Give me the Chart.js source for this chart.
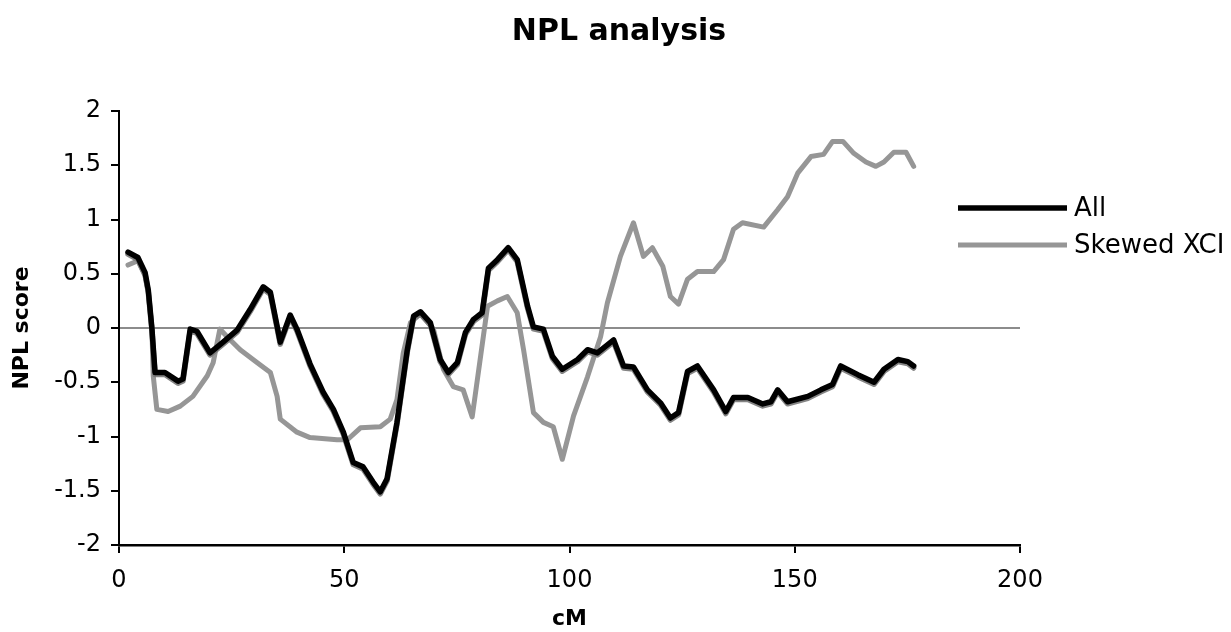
<!DOCTYPE html>
<html>
<head>
<meta charset="utf-8">
<script src="https://cdn.jsdelivr.net/npm/chart.js@4.4.1/dist/chart.umd.min.js"></script>
<style>
  html, body { margin: 0; padding: 0; background: #fff; }
  #wrap { width: 1231px; height: 632px; position: relative; }
</style>
</head>
<body>
<div id="wrap"><canvas id="c"></canvas></div>
<script>
const chartTitle = "NPL analysis";
const seriesNames = ["All", "Skewed XCI"];

const allCM = [2, 4.2, 5.8, 6.5, 7.3, 8, 10.2, 13.1, 14.2, 15.8, 17.3, 20.2, 23.1, 26.2, 29.1, 32, 33.6, 35.8, 38, 39.5,
  42.4, 45.3, 47.6, 49.8, 52, 54.2, 56.4, 58, 59.5, 61.7, 64, 65.4, 66.9, 69.1, 71.3, 73.1, 75.1, 76.9, 78.7, 80.6,
  82, 84, 86.4, 88.4, 90.7, 92, 94.2, 96.2, 98.4, 101.8, 104, 106.2, 109.8, 112, 114.2, 117.3, 120.2, 122.4, 124.2, 126.2,
  128.4, 132, 134.7, 136.4, 139.6, 142.9, 144.7, 146.2, 148.4, 152.9, 155.8, 158.4, 160.2, 164, 167.6, 169.8, 172.9, 175.1, 176.4];
const allNPL = [0.70, 0.65, 0.51, 0.35, 0, -0.41, -0.41, -0.49, -0.47, -0.01, -0.03, -0.23, -0.13, -0.02, 0.17, 0.38, 0.33, -0.13, 0.12, -0.01,
  -0.33, -0.59, -0.75, -0.96, -1.24, -1.28, -1.42, -1.51, -1.39, -0.87, -0.20, 0.11, 0.15, 0.05, -0.29, -0.41, -0.32, -0.04, 0.08, 0.14,
  0.55, 0.63, 0.74, 0.63, 0.20, 0.01, -0.01, -0.26, -0.38, -0.29, -0.20, -0.23, -0.11, -0.35, -0.36, -0.57, -0.69, -0.83, -0.78, -0.40,
  -0.35, -0.57, -0.77, -0.64, -0.64, -0.70, -0.68, -0.57, -0.68, -0.63, -0.57, -0.52, -0.35, -0.43, -0.50, -0.38, -0.29, -0.31, -0.35];

const xciCM = [2, 4.2, 5.8, 6.5, 7.3, 7.6, 8.4, 10.9, 13.6, 16.4, 19.6, 20.9, 22.4, 24, 26.9, 30.7, 33.6, 35.1, 35.8, 39.5,
  42.4, 48.4, 50.7, 53.6, 58, 60.2, 61.7, 63.1, 64.7, 66.9, 69.8, 72, 74.2, 76.4, 78.4, 81.8, 84, 86.2, 88.4, 89.8,
  92, 94.2, 96.4, 98.4, 100.9, 104, 106.9, 108.4, 111.3, 114.2, 116.4, 118.4, 120.7, 122.4, 124.2, 126.2, 128.4, 132, 134.2, 136.4,
  138.4, 143.1, 146.2, 148.4, 150.7, 153.6, 156.4, 158.4, 160.7, 163.1, 165.8, 168, 169.8, 172, 174.7, 176.4];
const xciNPL = [0.58, 0.62, 0.48, 0.33, 0, -0.44, -0.75, -0.77, -0.72, -0.63, -0.44, -0.32, -0.01, -0.08, -0.20, -0.32, -0.41, -0.63, -0.84, -0.96,
  -1.01, -1.03, -1.03, -0.92, -0.91, -0.84, -0.66, -0.23, 0.05, 0.13, -0.01, -0.38, -0.54, -0.57, -0.82, 0.20, 0.25, 0.29, 0.14, -0.20,
  -0.78, -0.87, -0.91, -1.21, -0.81, -0.45, -0.08, 0.23, 0.66, 0.97, 0.66, 0.74, 0.57, 0.29, 0.22, 0.45, 0.52, 0.52, 0.63, 0.91,
  0.97, 0.93, 1.09, 1.21, 1.43, 1.58, 1.60, 1.72, 1.72, 1.61, 1.53, 1.49, 1.53, 1.62, 1.62, 1.49];

const xTicks = [0, 50, 100, 150, 200];
const yTicks = [-2, -1.5, -1, -0.5, 0, 0.5, 1, 1.5, 2];

const toPoints = (xs, ys) => xs.map((x, i) => ({ x: x, y: ys[i] }));

const FONT = "'DejaVu Sans', Verdana, sans-serif";

const shadowPlugin = {
  id: 'blackShadow',
  beforeDatasetDraw(chart, args) {
    if (args.index === 0) {
      const ctx = chart.ctx;
      ctx.save();
      ctx.shadowColor = 'rgba(120,120,120,0.9)';
      ctx.shadowOffsetX = 0;
      ctx.shadowOffsetY = 2;
      ctx.shadowBlur = 0;
    }
  },
  afterDatasetDraw(chart, args) {
    if (args.index === 0) chart.ctx.restore();
  }
};

const titlePlugin = {
  id: 'pageTitle',
  afterDraw(chart, args, opts) {
    const ctx = chart.ctx;
    ctx.save();
    ctx.font = 'bold 30px ' + FONT;
    ctx.fillStyle = '#000';
    ctx.textAlign = 'center';
    ctx.textBaseline = 'alphabetic';
    ctx.fillText(opts.text, opts.x, opts.y);
    ctx.restore();
  }
};

const legendPlugin = {
  id: 'sideLegend',
  afterDraw(chart, args, opts) {
    const ctx = chart.ctx;
    ctx.save();
    ctx.font = '26px ' + FONT;
    ctx.textBaseline = 'middle';
    ctx.textAlign = 'left';
    chart.data.datasets.forEach((ds, i) => {
      const y = opts.y0 + i * opts.dy;
      ctx.strokeStyle = ds.borderColor;
      ctx.lineWidth = ds.borderWidth;
      ctx.beginPath();
      ctx.moveTo(opts.x0, y);
      ctx.lineTo(opts.x1, y);
      ctx.stroke();
      ctx.fillStyle = '#000';
      ctx.fillText(ds.label, opts.x1 + 7, y + 1);
    });
    ctx.restore();
  }
};

new Chart(document.getElementById('c'), {
  type: 'line',
  data: {
    datasets: [
      { label: seriesNames[0], data: toPoints(allCM, allNPL), borderColor: '#000000', borderWidth: 5.5,
        pointRadius: 0, tension: 0, fill: false, borderJoinStyle: 'round', borderCapStyle: 'round' },
      { label: seriesNames[1], data: toPoints(xciCM, xciNPL), borderColor: '#969696', borderWidth: 5,
        pointRadius: 0, tension: 0, fill: false, borderJoinStyle: 'round', borderCapStyle: 'round' }
    ]
  },
  options: {
    responsive: true,
    maintainAspectRatio: false,
    animation: false,
    layout: { padding: { left: 0, right: 211, top: 111, bottom: 0 } },
    plugins: {
      legend: { display: false },
      tooltip: { enabled: false },
      title: { display: false },
      pageTitle: { text: chartTitle, x: 619, y: 40 },
      sideLegend: { x0: 958, x1: 1067, y0: 208, dy: 37 }
    },
    scales: {
      x: {
        type: 'linear', min: 0, max: 200,
        afterBuildTicks: (s) => { s.ticks = xTicks.map(v => ({ value: v })); },
        afterFit: (s) => { s.height = 87; },
        border: { color: '#000', width: 2.5 },
        grid: { drawOnChartArea: false, color: '#000', tickColor: '#000', tickLength: 8, lineWidth: 2 },
        ticks: { color: '#000', font: { family: FONT, size: 24 }, padding: 13, maxRotation: 0,
                 callback: (v) => String(v) },
        title: { display: true, text: 'cM', color: '#000', font: { family: FONT, size: 22, weight: 'bold' },
                 padding: { top: 0, bottom: 0 } }
      },
      y: {
        type: 'linear', min: -2, max: 2,
        afterBuildTicks: (s) => { s.ticks = yTicks.map(v => ({ value: v })); },
        afterFit: (s) => { s.width = 119; },
        border: { color: '#000', width: 2 },
        grid: {
          color: (c) => (c.tick && c.tick.value === 0) ? '#8c8c8c' : 'rgba(0,0,0,0)',
          lineWidth: 2, tickColor: '#000', tickLength: 8
        },
        ticks: { color: '#000', font: { family: FONT, size: 24 }, padding: 10,
                 callback: (v) => String(v) },
        title: { display: true, text: 'NPL score', color: '#000', font: { family: FONT, size: 22, weight: 'bold' },
                 padding: { top: 9, bottom: 0 } }
      }
    }
  },
  plugins: [shadowPlugin, titlePlugin, legendPlugin]
});
</script>
</body>
</html>
